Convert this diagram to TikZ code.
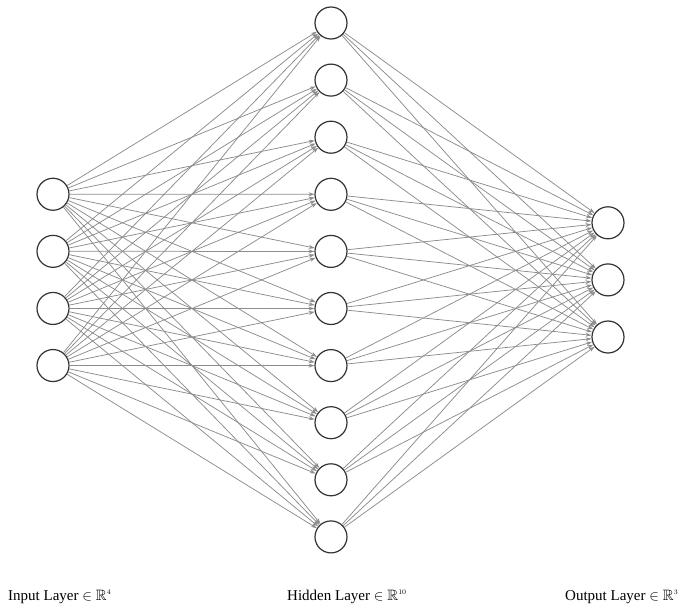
\documentclass[tikz,border=0pt]{standalone}
\usepackage{fontspec}
\usepackage{amssymb}
\setmainfont{Liberation Serif}
\usetikzlibrary{arrows.meta}

\begin{document}
\begin{tikzpicture}[
  x=1pt,
  y=-1pt,
  neuron/.style={
    circle,
    draw=black!80,
    line width=1.2pt,
    fill=white,
    minimum size=32pt,
    inner sep=0pt
  },
  weight/.style={
    draw=black!45,
    line width=0.75pt,
    -{Stealth[length=6pt,width=4pt]}
  },
  layername/.style={
    anchor=base west,
    font=\fontsize{15}{18}\selectfont,
    inner sep=0pt
  }
]
  \useasboundingbox (0,0) rectangle (681,605);
  % layers
  \foreach \i in {1,...,4}
    \node[neuron] (in-\i) at (53,{279.9+57.1*(\i-2.5)}) {};
  \foreach \j in {1,...,10}
    \node[neuron] (hid-\j) at (331,{23+57.1*(\j-1)}) {};
  \foreach \k in {1,...,3}
    \node[neuron] (out-\k) at (608,{279.9+57.1*(\k-2)}) {};
  % connections
  \foreach \i in {1,...,4}
    \foreach \j in {1,...,10}
      \draw[weight] (in-\i) -- (hid-\j);
  \foreach \j in {1,...,10}
    \foreach \k in {1,...,3}
      \draw[weight] (hid-\j) -- (out-\k);
  % labels
  \node[layername] (in-name) at (8,600)
    {Input Layer $\in \mathbb{R}^{\scriptscriptstyle 4}$};
  \node[layername] (hid-name) at (287,600)
    {Hidden Layer $\in \mathbb{R}^{\scriptscriptstyle 10}$};
  \node[layername] (out-name) at (565,600)
    {Output Layer $\in \mathbb{R}^{\scriptscriptstyle 3}$};
\end{tikzpicture}
\end{document}
